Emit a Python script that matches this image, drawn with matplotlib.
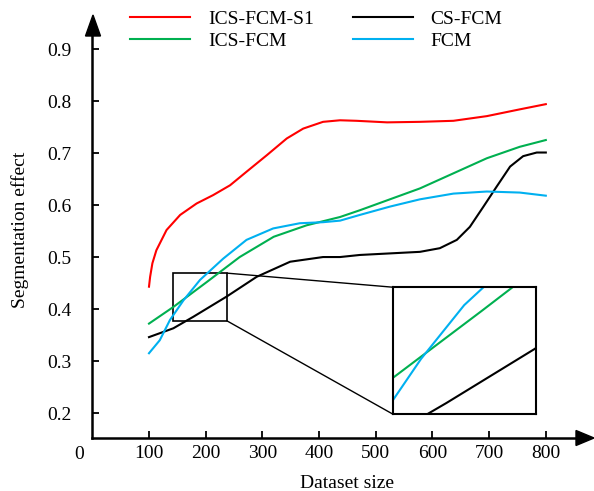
import matplotlib
matplotlib.use("Agg")
import matplotlib.pyplot as plt
from matplotlib.patches import Rectangle, Polygon

plt.rcParams['font.family'] = ['Liberation Serif', 'DejaVu Serif']

# 各方法在不同資料量下的分割效果
x_s1 = [100, 102, 106, 113, 131, 155, 184, 213, 243, 272, 308, 343, 372, 407, 437, 466, 520, 578, 637, 696, 754, 800]
y_s1 = [0.443, 0.462, 0.488, 0.513, 0.552, 0.581, 0.603, 0.619, 0.638, 0.664, 0.696, 0.728, 0.747, 0.760, 0.763, 0.762,
        0.759, 0.760, 0.762, 0.771, 0.784, 0.794]

x_ics = [100, 143, 202, 260, 320, 378, 437, 472, 525, 578, 637, 696, 754, 800]
y_ics = [0.372, 0.404, 0.452, 0.500, 0.539, 0.561, 0.577, 0.590, 0.611, 0.632, 0.661, 0.690, 0.712, 0.725]

x_fcm = [100, 119, 137, 161, 190, 231, 272, 319, 366, 407, 437, 472, 525, 578, 637, 696, 754, 800]
y_fcm = [0.315, 0.340, 0.379, 0.417, 0.456, 0.497, 0.533, 0.555, 0.565, 0.567, 0.570, 0.581, 0.597, 0.611, 0.622,
         0.626, 0.624, 0.618]

x_cs = [100, 143, 178, 237, 290, 349, 407, 437, 472, 525, 578, 613, 643, 666, 690, 713, 737, 760, 784, 800]
y_cs = [0.346, 0.363, 0.385, 0.424, 0.462, 0.491, 0.500, 0.500, 0.504, 0.507, 0.510, 0.517, 0.533, 0.558, 0.597,
        0.635, 0.674, 0.694, 0.701, 0.701]

x_ticks = [100, 200, 300, 400, 500, 600, 700, 800]
y_ticks = [0.2, 0.3, 0.4, 0.5, 0.6, 0.7, 0.8, 0.9]

red = '#ff0000'
green = '#00b050'
cyan = '#00b0f0'

W, H = 594, 491
fig = plt.figure(figsize=(W / 100, H / 100), dpi=100)
ax = fig.add_axes([92.3 / W, 53 / H, 484.7 / W, 403 / H])

ax.plot(x_s1, y_s1, color=red, lw=1.5, label='ICS-FCM-S1')
ax.plot(x_ics, y_ics, color=green, lw=1.5, label='ICS-FCM')
ax.plot(x_cs, y_cs, color='black', lw=1.5, label='CS-FCM')
ax.plot(x_fcm, y_fcm, color=cyan, lw=1.5, label='FCM')

ax.set_xlim(0, 855)
ax.set_ylim(0.152, 0.927)
ax.set_xticks(x_ticks)
ax.set_yticks(y_ticks)
ax.set_yticklabels([f'{v:.1f}' for v in y_ticks])
ax.tick_params(direction='in', length=5, width=1.3, labelsize=14)
ax.tick_params(axis='y', pad=15)
ax.tick_params(axis='x', pad=5)
for s in ['top', 'right']:
    ax.spines[s].set_visible(False)
for s in ['left', 'bottom']:
    ax.spines[s].set_linewidth(1.8)

# 坐標軸箭頭
fig.patches.append(Polygon([(93 / W, 1 - 15 / H), (85.5 / W, 1 - 36 / H), (100.5 / W, 1 - 36 / H)],
                           closed=True, color='black', transform=fig.transFigure))
fig.patches.append(Polygon([(594 / W, 1 - 438 / H), (576 / W, 1 - 430.5 / H), (576 / W, 1 - 445.5 / H)],
                           closed=True, color='black', transform=fig.transFigure))

ax.annotate('0', xy=(0, 0), xycoords='axes fraction', xytext=(-9.5, -12),
            textcoords='offset points', ha='center', va='center', fontsize=14)

fig.text(20 / W, 1 - 230 / H, 'Segmentation effect', rotation=90, ha='center', va='center', fontsize=14)
fig.text(347 / W, 1 - 483 / H, 'Dataset size', ha='center', va='center', fontsize=14)

# 局部放大框
x0, x1, y0, y1 = 142, 238, 0.377, 0.469
ax.add_patch(Rectangle((x0, y0), x1 - x0, y1 - y0, fill=False, ec='black', lw=1.2))
bx0, bx1, by0, by1 = 530, 782, 0.198, 0.442
ax.plot([x1, bx0], [y1, by1], color='black', lw=1)
ax.plot([x1, bx0], [y0, by0], color='black', lw=1)

axins = ax.inset_axes([bx0, by0, bx1 - bx0, by1 - by0], transform=ax.transData)
axins.plot(x_ics, y_ics, color=green, lw=1.5)
axins.plot(x_fcm, y_fcm, color=cyan, lw=1.5)
axins.plot(x_cs, y_cs, color='black', lw=1.5)
axins.set_xlim(x0, x1)
axins.set_ylim(y0, y1)
axins.set_xticks([])
axins.set_yticks([])
for s in axins.spines.values():
    s.set_linewidth(1.5)

ax.legend(loc='upper left', bbox_to_anchor=(130 / W, 1 - 10 / H), bbox_transform=fig.transFigure,
          ncol=2, frameon=False, fontsize=14, handlelength=3.1, handletextpad=0.9,
          columnspacing=2.0, labelspacing=0.25, borderpad=0, borderaxespad=0)

fig.savefig('out.png', dpi=100)
